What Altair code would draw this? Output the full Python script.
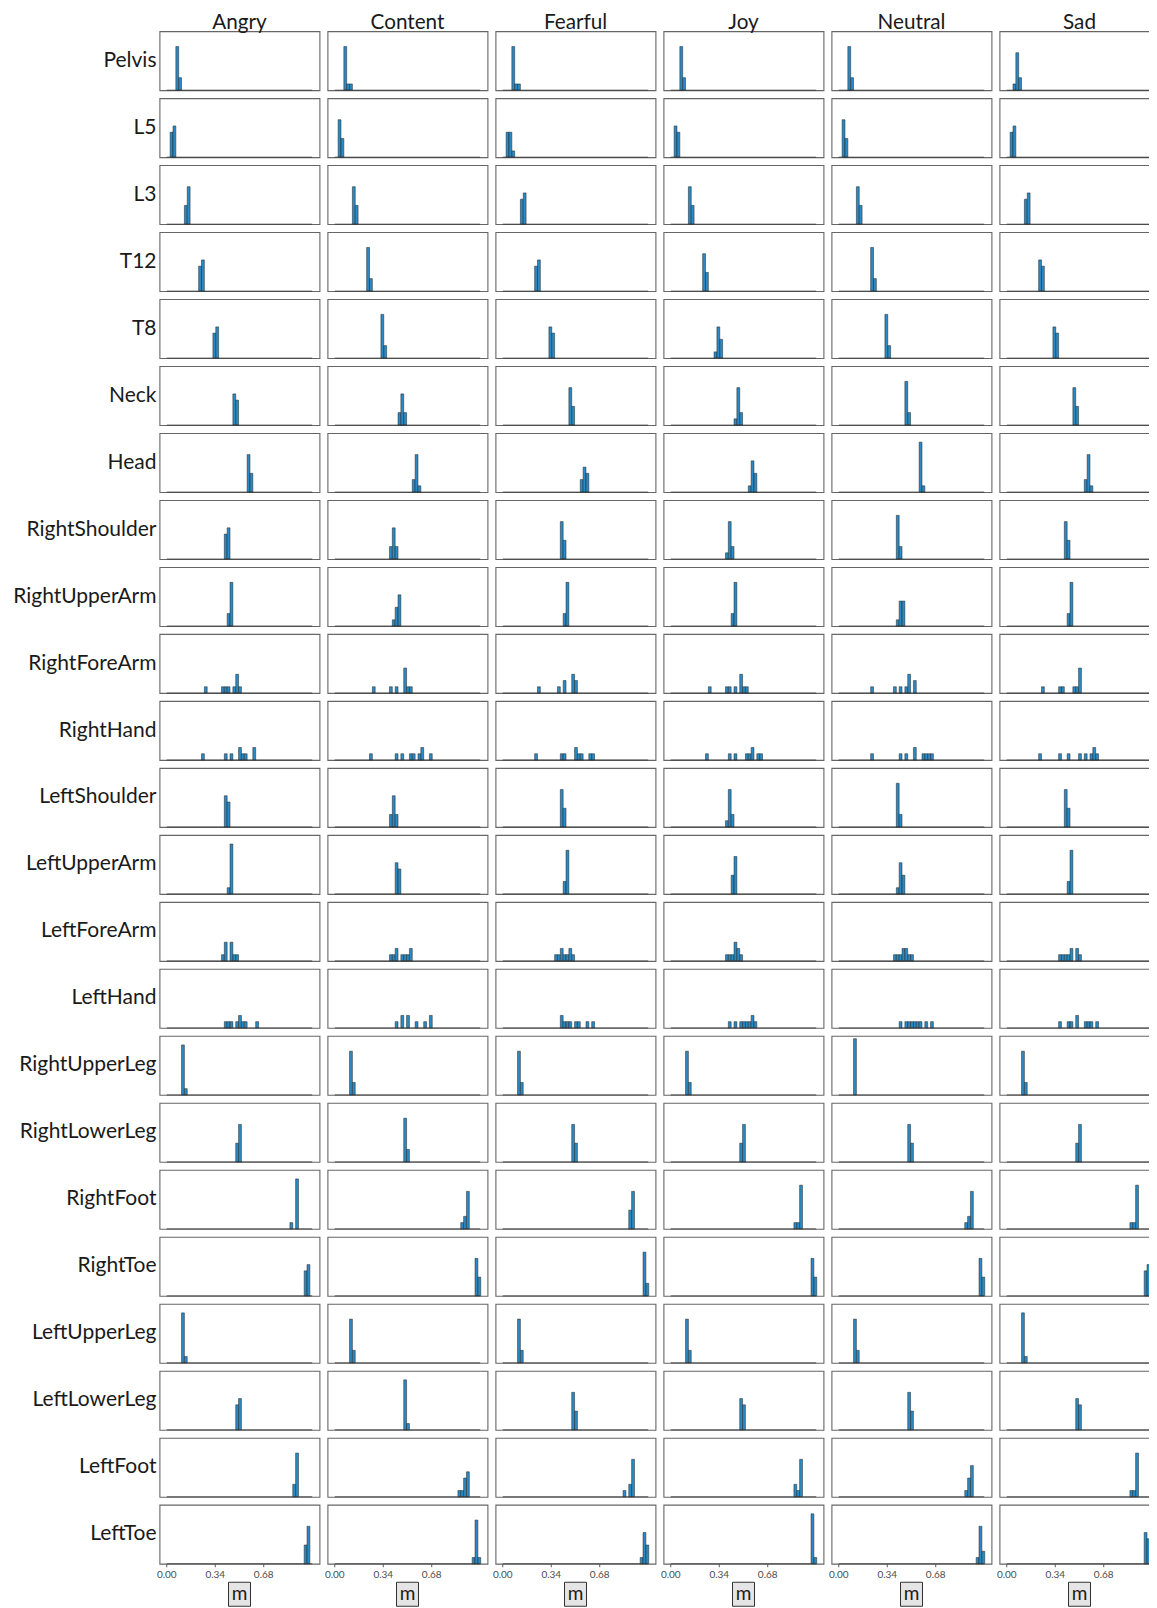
import altair as alt
import pandas as pd

EMOTIONS = ["Angry", "Content", "Fearful", "Joy", "Neutral", "Sad"]
PARTS = ["Pelvis", "L5", "L3", "T12", "T8", "Neck", "Head", "RightShoulder",
         "RightUpperArm", "RightForeArm", "RightHand", "LeftShoulder",
         "LeftUpperArm", "LeftForeArm", "LeftHand", "RightUpperLeg",
         "RightLowerLeg", "RightFoot", "RightToe", "LeftUpperLeg",
         "LeftLowerLeg", "LeftFoot", "LeftToe"]

BIN_STEP = 0.02
BIN_EXTENT = [0.0, 1.02]
X_TICKS = [0.0, 0.34, 0.68]
X_TICK_LABELS = ["0.00", "0.34", "0.68"]
AXIS_TITLE = "m"

# (bin centre value, count) per body part, in PARTS order
ANGRY = [
    [(0.07, 7), (0.09, 2)],
    [(0.03, 4), (0.05, 5)],
    [(0.13, 3), (0.15, 6)],
    [(0.23, 4), (0.25, 5)],
    [(0.33, 4), (0.35, 5)],
    [(0.47, 5), (0.49, 4)],
    [(0.57, 6), (0.59, 3)],
    [(0.41, 4), (0.43, 5)],
    [(0.43, 2), (0.45, 7)],
    [(0.27, 1), (0.39, 1), (0.41, 1), (0.43, 1), (0.47, 1), (0.49, 3), (0.51, 1)],
    [(0.25, 1), (0.41, 1), (0.45, 1), (0.51, 2), (0.53, 1), (0.55, 1), (0.61, 2)],
    [(0.41, 5), (0.43, 4)],
    [(0.43, 1), (0.45, 8)],
    [(0.39, 1), (0.41, 3), (0.45, 3), (0.47, 1), (0.49, 1)],
    [(0.41, 1), (0.43, 1), (0.45, 1), (0.49, 1), (0.51, 2), (0.53, 1), (0.55, 1), (0.63, 1)],
    [(0.11, 8), (0.13, 1)],
    [(0.49, 3), (0.51, 6)],
    [(0.87, 1), (0.91, 8)],
    [(0.97, 4), (0.99, 5)],
    [(0.11, 8), (0.13, 1)],
    [(0.49, 4), (0.51, 5)],
    [(0.89, 2), (0.91, 7)],
    [(0.97, 3), (0.99, 6)],
]

CONTENT = [
    [(0.07, 7), (0.09, 1), (0.11, 1)],
    [(0.03, 6), (0.05, 3)],
    [(0.13, 6), (0.15, 3)],
    [(0.23, 7), (0.25, 2)],
    [(0.33, 7), (0.35, 2)],
    [(0.45, 2), (0.47, 5), (0.49, 2)],
    [(0.55, 2), (0.57, 6), (0.59, 1)],
    [(0.39, 2), (0.41, 5), (0.43, 2)],
    [(0.41, 1), (0.43, 3), (0.45, 5)],
    [(0.27, 1), (0.39, 1), (0.43, 1), (0.49, 4), (0.51, 1), (0.53, 1)],
    [(0.25, 1), (0.43, 1), (0.47, 1), (0.53, 1), (0.55, 1), (0.59, 1), (0.61, 2), (0.67, 1)],
    [(0.39, 2), (0.41, 5), (0.43, 2)],
    [(0.43, 5), (0.45, 4)],
    [(0.39, 1), (0.41, 1), (0.43, 2), (0.47, 1), (0.49, 1), (0.51, 1), (0.53, 2)],
    [(0.43, 1), (0.47, 2), (0.51, 2), (0.57, 1), (0.63, 1), (0.67, 2)],
    [(0.11, 7), (0.13, 2)],
    [(0.49, 7), (0.51, 2)],
    [(0.89, 1), (0.91, 2), (0.93, 6)],
    [(0.99, 6), (1.01, 3)],
    [(0.11, 7), (0.13, 2)],
    [(0.49, 8), (0.51, 1)],
    [(0.87, 1), (0.89, 1), (0.91, 3), (0.93, 4)],
    [(0.97, 1), (0.99, 7), (1.01, 1)],
]

FEARFUL = [
    [(0.07, 7), (0.09, 1), (0.11, 1)],
    [(0.03, 4), (0.05, 4), (0.07, 1)],
    [(0.13, 4), (0.15, 5)],
    [(0.23, 4), (0.25, 5)],
    [(0.33, 5), (0.35, 4)],
    [(0.47, 6), (0.49, 3)],
    [(0.55, 2), (0.57, 4), (0.59, 3)],
    [(0.41, 6), (0.43, 3)],
    [(0.43, 2), (0.45, 7)],
    [(0.25, 1), (0.39, 1), (0.43, 2), (0.49, 3), (0.51, 2)],
    [(0.23, 1), (0.41, 1), (0.43, 1), (0.51, 2), (0.53, 1), (0.55, 1), (0.61, 1), (0.63, 1)],
    [(0.41, 6), (0.43, 3)],
    [(0.43, 2), (0.45, 7)],
    [(0.37, 1), (0.39, 1), (0.41, 2), (0.43, 1), (0.45, 1), (0.47, 2), (0.49, 1)],
    [(0.41, 2), (0.43, 1), (0.45, 1), (0.47, 1), (0.51, 1), (0.53, 1), (0.59, 1), (0.63, 1)],
    [(0.11, 7), (0.13, 2)],
    [(0.49, 6), (0.51, 3)],
    [(0.89, 3), (0.91, 6)],
    [(0.99, 7), (1.01, 2)],
    [(0.11, 7), (0.13, 2)],
    [(0.49, 6), (0.51, 3)],
    [(0.85, 1), (0.89, 2), (0.91, 6)],
    [(0.97, 1), (0.99, 5), (1.01, 3)],
]

JOY = [
    [(0.07, 7), (0.09, 2)],
    [(0.03, 5), (0.05, 4)],
    [(0.13, 6), (0.15, 3)],
    [(0.23, 6), (0.25, 3)],
    [(0.31, 1), (0.33, 5), (0.35, 3)],
    [(0.45, 1), (0.47, 6), (0.49, 2)],
    [(0.55, 1), (0.57, 5), (0.59, 3)],
    [(0.39, 1), (0.41, 6), (0.43, 2)],
    [(0.43, 2), (0.45, 7)],
    [(0.27, 1), (0.39, 1), (0.41, 1), (0.45, 1), (0.49, 3), (0.51, 1), (0.53, 1)],
    [(0.25, 1), (0.41, 1), (0.45, 1), (0.53, 1), (0.55, 1), (0.57, 2), (0.61, 1), (0.63, 1)],
    [(0.39, 1), (0.41, 6), (0.43, 2)],
    [(0.43, 3), (0.45, 6)],
    [(0.39, 1), (0.41, 1), (0.43, 1), (0.45, 3), (0.47, 2), (0.49, 1)],
    [(0.41, 1), (0.45, 1), (0.49, 1), (0.51, 1), (0.53, 1), (0.55, 1), (0.57, 2), (0.59, 1)],
    [(0.11, 7), (0.13, 2)],
    [(0.49, 3), (0.51, 6)],
    [(0.87, 1), (0.89, 1), (0.91, 7)],
    [(0.99, 6), (1.01, 3)],
    [(0.11, 7), (0.13, 2)],
    [(0.49, 5), (0.51, 4)],
    [(0.87, 2), (0.89, 1), (0.91, 6)],
    [(0.99, 8), (1.01, 1)],
]

NEUTRAL = [
    [(0.07, 7), (0.09, 2)],
    [(0.03, 6), (0.05, 3)],
    [(0.13, 6), (0.15, 3)],
    [(0.23, 7), (0.25, 2)],
    [(0.33, 7), (0.35, 2)],
    [(0.47, 7), (0.49, 2)],
    [(0.57, 8), (0.59, 1)],
    [(0.41, 7), (0.43, 2)],
    [(0.41, 1), (0.43, 4), (0.45, 4)],
    [(0.23, 1), (0.39, 1), (0.43, 1), (0.47, 1), (0.49, 3), (0.53, 2)],
    [(0.23, 1), (0.43, 1), (0.47, 1), (0.53, 2), (0.59, 1), (0.61, 1), (0.63, 1), (0.65, 1)],
    [(0.41, 7), (0.43, 2)],
    [(0.41, 1), (0.43, 5), (0.45, 3)],
    [(0.39, 1), (0.41, 1), (0.43, 1), (0.45, 2), (0.47, 2), (0.49, 1), (0.51, 1)],
    [(0.43, 1), (0.47, 1), (0.49, 1), (0.51, 1), (0.53, 1), (0.55, 1), (0.57, 1), (0.61, 1), (0.65, 1)],
    [(0.11, 9)],
    [(0.49, 6), (0.51, 3)],
    [(0.89, 1), (0.91, 2), (0.93, 6)],
    [(0.99, 6), (1.01, 3)],
    [(0.11, 7), (0.13, 2)],
    [(0.49, 6), (0.51, 3)],
    [(0.89, 1), (0.91, 3), (0.93, 5)],
    [(0.97, 1), (0.99, 6), (1.01, 2)],
]

SAD = [
    [(0.05, 1), (0.07, 6), (0.09, 2)],
    [(0.03, 4), (0.05, 5)],
    [(0.13, 4), (0.15, 5)],
    [(0.23, 5), (0.25, 4)],
    [(0.33, 5), (0.35, 4)],
    [(0.47, 6), (0.49, 3)],
    [(0.55, 2), (0.57, 6), (0.59, 1)],
    [(0.41, 6), (0.43, 3)],
    [(0.43, 2), (0.45, 7)],
    [(0.25, 1), (0.37, 1), (0.39, 1), (0.47, 1), (0.49, 1), (0.51, 4)],
    [(0.23, 1), (0.37, 1), (0.43, 1), (0.51, 1), (0.55, 1), (0.59, 1), (0.61, 2), (0.63, 1)],
    [(0.41, 6), (0.43, 3)],
    [(0.43, 2), (0.45, 7)],
    [(0.37, 1), (0.39, 1), (0.41, 1), (0.43, 1), (0.45, 2), (0.49, 2), (0.51, 1)],
    [(0.37, 1), (0.43, 1), (0.45, 1), (0.49, 2), (0.55, 1), (0.57, 1), (0.59, 1), (0.63, 1)],
    [(0.11, 7), (0.13, 2)],
    [(0.49, 3), (0.51, 6)],
    [(0.87, 1), (0.89, 1), (0.91, 7)],
    [(0.97, 4), (0.99, 5)],
    [(0.11, 8), (0.13, 1)],
    [(0.49, 5), (0.51, 4)],
    [(0.87, 1), (0.89, 1), (0.91, 7)],
    [(0.97, 5), (0.99, 4)],
]

HIST = {"Angry": ANGRY, "Content": CONTENT, "Fearful": FEARFUL,
        "Joy": JOY, "Neutral": NEUTRAL, "Sad": SAD}

rows = []
for emo in EMOTIONS:
    for part, cell in zip(PARTS, HIST[emo]):
        for v, n in cell:
            rows.append({"kind": "bar", "emotion": emo, "part": part, "v": v, "n": n})
        rows.append({"kind": "base", "emotion": emo, "part": part,
                     "v": BIN_EXTENT[0], "v2": BIN_EXTENT[1]})
    for t, lab in zip(X_TICKS, X_TICK_LABELS):
        rows.append({"kind": "tick", "emotion": emo, "part": PARTS[-1], "v": t, "label": lab})
    rows.append({"kind": "title", "emotion": emo, "part": PARTS[-1], "label": AXIS_TITLE})
    rows.append({"kind": "collabel", "emotion": emo, "part": PARTS[0], "label": emo})
for part in PARTS:
    rows.append({"kind": "rowlabel", "emotion": EMOTIONS[0], "part": part, "label": part})
df = pd.DataFrame(rows)

W, H = 160, 59
FONT = "Lato"
TEXT = "#1a1a1a"
xscale = alt.Scale(domain=[-0.051, 1.071], nice=False, zero=False)
yscale = alt.Scale(domain=[0, 9.45], nice=False)


def part_of(kind):
    return alt.Chart().transform_filter(f"datum.kind == '{kind}'")


bars = part_of("bar").mark_bar(
    fill="#2b8ac3", stroke="#222222", strokeWidth=0.5, binSpacing=0
).encode(
    x=alt.X("v:Q", bin=alt.Bin(step=BIN_STEP, extent=BIN_EXTENT), scale=xscale, axis=None),
    y=alt.Y("sum(n):Q", scale=yscale, axis=None),
)

base = part_of("base").mark_rule(color="#333333", strokeWidth=0.8).encode(
    x=alt.X("v:Q", scale=xscale, axis=None),
    x2="v2:Q",
    y=alt.datum(0),
)

ticks = part_of("tick").mark_rule(color="#333333", strokeWidth=0.8).encode(
    x=alt.X("v:Q", scale=xscale, axis=None),
    y=alt.value(H + 0.5),
    y2=alt.value(H + 3.5),
)

tick_labels = part_of("tick").mark_text(
    font=FONT, fontSize=10, color="#4d4d4d", baseline="alphabetic", align="center"
).encode(
    x=alt.X("v:Q", scale=xscale, axis=None),
    y=alt.value(H + 14),
    text="label:N",
)

box = part_of("title").mark_rect(
    fill="#e5e5e5", stroke="#333333", strokeWidth=1
).encode(
    x=alt.value(W / 2 - 11),
    x2=alt.value(W / 2 + 11),
    y=alt.value(H + 18.5),
    y2=alt.value(H + 42.5),
)

title = part_of("title").mark_text(
    font=FONT, fontSize=19, color=TEXT, baseline="alphabetic", align="center"
).encode(
    x=alt.value(W / 2),
    y=alt.value(H + 36.5),
    text="label:N",
)

col_labels = part_of("collabel").mark_text(
    font=FONT, fontSize=20.7, color=TEXT, baseline="alphabetic", align="center"
).encode(
    x=alt.value(W / 2),
    y=alt.value(-2.7),
    text="label:N",
)

row_labels = part_of("rowlabel").mark_text(
    font=FONT, fontSize=21, color=TEXT, baseline="alphabetic", align="right"
).encode(
    x=alt.value(-3),
    y=alt.value(35.5),
    text="label:N",
)

chart = alt.layer(
    bars, base, ticks, tick_labels, box, title, col_labels, row_labels, data=df
).properties(
    width=W, height=H
).facet(
    row=alt.Row("part:N", sort=PARTS, header=alt.Header(labels=False, title=None)),
    column=alt.Column("emotion:N", sort=EMOTIONS, header=alt.Header(labels=False, title=None)),
    spacing={"row": 7.98, "column": 8},
    bounds="flush",
).configure_view(
    stroke="#666666", strokeWidth=1.1
).properties(
    autosize=alt.AutoSizeParams(type="none"),
    padding={"left": 151.5, "top": 23.2, "right": 989.5, "bottom": 1576.8},
)

chart.save("out.html", embed_options={"renderer": "svg", "actions": False})
